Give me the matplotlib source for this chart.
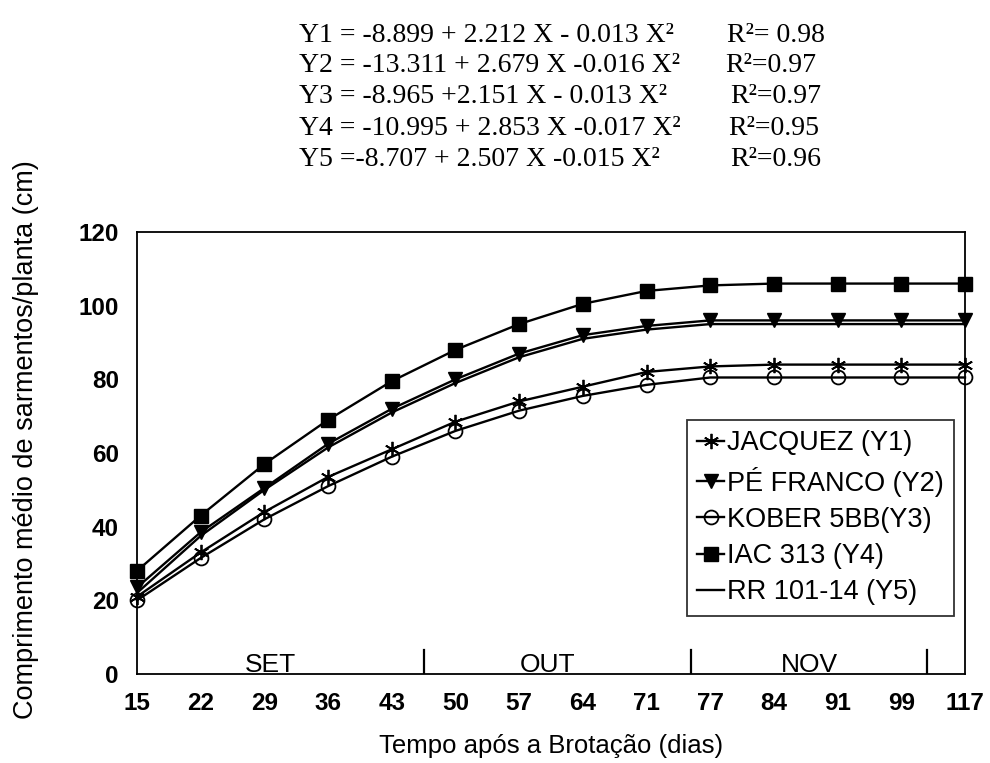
import matplotlib
matplotlib.use("Agg")
import matplotlib.pyplot as plt

# ---------------- data ----------------
x_labels = ["15", "22", "29", "36", "43", "50", "57", "64", "71", "77", "84", "91", "99", "117"]
jacquez = [21, 33, 44, 53.5, 61, 68.5, 74, 78, 82, 83.5, 84, 84, 84, 84]
pe_franco = [23.5, 38.5, 50.5, 62.5, 72, 80, 87, 92, 94.5, 96, 96, 96, 96, 96]
kober = [20, 31.5, 42, 51, 59, 66, 71.5, 75.5, 78.5, 80.5, 80.5, 80.5, 80.5, 80.5]
iac313 = [28, 43, 57, 69, 79.5, 88, 95, 100.5, 104, 105.5, 106, 106, 106, 106]
rr101 = [22, 37.5, 50, 61.5, 71, 79, 86, 91, 93.5, 95, 95, 95, 95, 95]
series_names = ["JACQUEZ (Y1)", "PÉ FRANCO (Y2)", "KOBER 5BB(Y3)", "IAC 313 (Y4)", "RR 101-14 (Y5)"]

months = ["SET", "OUT", "NOV"]
month_label_pos = [2.1, 6.45, 10.55]
month_bounds = [4.5, 8.7, 12.4]

equations = [
    "Y1 = -8.899 + 2.212 X - 0.013 X\u00b2",
    "Y2 = -13.311 + 2.679 X -0.016 X\u00b2",
    "Y3 = -8.965 +2.151 X - 0.013 X\u00b2",
    "Y4 = -10.995 + 2.853 X -0.017 X\u00b2",
    "Y5 =-8.707 + 2.507 X -0.015 X\u00b2",
]
r2_texts = ["R\u00b2= 0.98", "R\u00b2=0.97", "R\u00b2=0.97", "R\u00b2=0.95", "R\u00b2=0.96"]

# ---------------- figure ----------------
W, H = 990, 763
fig = plt.figure(figsize=(W / 100, H / 100), dpi=100)
ax = fig.add_axes([137 / W, 1 - 674 / H, (965 - 137) / W, (674 - 232) / H])

sans = "Liberation Sans"
serif = "Liberation Serif"

x = list(range(len(x_labels)))
lw = 1.7
ax.plot(x, jacquez, color="black", lw=lw, marker=(6, 2, 0), ms=11, mew=1.3,
        label=series_names[0], clip_on=False, zorder=3)
ax.plot(x, pe_franco, color="black", lw=lw, marker="v", ms=10,
        label=series_names[1], clip_on=False, zorder=3)
ax.plot(x, kober, color="black", lw=lw, marker="o", ms=10, mfc="none", mew=1.3,
        label=series_names[2], clip_on=False, zorder=3)
ax.plot(x, iac313, color="black", lw=lw, marker="s", ms=10,
        label=series_names[3], clip_on=False, zorder=3)
ax.plot(x, rr101, color="black", lw=lw, label=series_names[4], clip_on=False, zorder=3)

ax.set_xlim(0, len(x_labels) - 1)
ax.set_ylim(0, 120)
ax.set_yticks(range(0, 121, 20))
ax.set_xticks(x)
ax.set_xticklabels(x_labels)
ax.tick_params(axis="both", length=0, labelsize=17.5, pad=13)
for lab in ax.get_xticklabels() + ax.get_yticklabels():
    lab.set_fontfamily(sans)
    lab.set_fontweight("bold")
for sp in ax.spines.values():
    sp.set_linewidth(1.3)
    sp.set_color("black")

# month separators and labels
for b in month_bounds:
    ax.plot([b, b], [0, 6.5], color="black", lw=1.6)
for m, p in zip(months, month_label_pos):
    ax.text(p, 0.6, m, ha="center", va="baseline", fontsize=19, family=sans)

ax.set_xlabel("Tempo após a Brotação (dias)", fontsize=18.5, family=sans, labelpad=14)
ax.set_ylabel("Comprimento médio de sarmentos/planta (cm)", fontsize=19.5, family=sans)
ax.yaxis.set_label_coords(-0.118, 0.53)

leg = ax.legend(loc="upper left", bbox_to_anchor=((687 - 137) / 828, (674 - 420) / 442),
                prop={"family": sans, "size": 19.5}, frameon=True, fancybox=False,
                handlelength=1.0, handletextpad=0.1, labelspacing=0.38,
                borderpad=0.38, borderaxespad=0)
leg.get_frame().set_edgecolor("black")
leg.get_frame().set_linewidth(1.3)

# equations
eq_x = 299
eq_base = [42, 72, 103, 135, 166]
r2_x = [727, 725, 730, 728, 730]
for e, r, yb, rx in zip(equations, r2_texts, eq_base, r2_x):
    fig.text(eq_x / W, 1 - yb / H, e, ha="left", va="baseline", fontsize=20, family=serif)
    fig.text(rx / W, 1 - yb / H, r, ha="left", va="baseline", fontsize=20, family=serif)

fig.savefig("out.png", dpi=100, facecolor="white")
